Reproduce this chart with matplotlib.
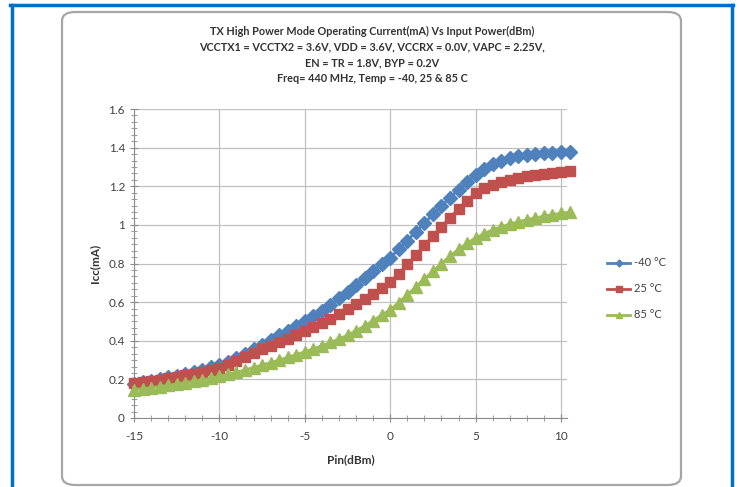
import numpy as np
import matplotlib.pyplot as plt
from matplotlib.patches import FancyBboxPatch
from matplotlib.lines import Line2D
from matplotlib.ticker import MultipleLocator

plt.rcParams["font.family"] = ["Lato", "DejaVu Sans"]
plt.rcParams["axes.unicode_minus"] = False

pin = np.arange(-15.0, 10.51, 0.5)

icc_m40 = [0.178, 0.185, 0.193, 0.201, 0.210, 0.219, 0.229, 0.239, 0.250, 0.262,
           0.275, 0.292, 0.311, 0.332, 0.355, 0.380, 0.404, 0.428, 0.452, 0.476,
           0.500, 0.527, 0.556, 0.587, 0.620, 0.655, 0.690, 0.725, 0.760, 0.795,
           0.830, 0.874, 0.919, 0.964, 1.009, 1.054, 1.098, 1.141, 1.183, 1.222,
           1.258, 1.289, 1.314, 1.332, 1.345, 1.355, 1.362, 1.367, 1.371, 1.374,
           1.376, 1.378]
icc_25 = [0.180, 0.186, 0.192, 0.199, 0.206, 0.213, 0.221, 0.229, 0.238, 0.247,
          0.257, 0.275, 0.294, 0.314, 0.335, 0.357, 0.375, 0.393, 0.411, 0.430,
          0.450, 0.471, 0.492, 0.515, 0.539, 0.565, 0.591, 0.617, 0.644, 0.673,
          0.705, 0.748, 0.795, 0.844, 0.894, 0.943, 0.991, 1.038, 1.083, 1.126,
          1.163, 1.190, 1.208, 1.222, 1.234, 1.244, 1.252, 1.259, 1.265, 1.270,
          1.275, 1.279]
icc_85 = [0.147, 0.152, 0.157, 0.163, 0.169, 0.176, 0.183, 0.190, 0.198, 0.206,
          0.215, 0.226, 0.237, 0.249, 0.261, 0.274, 0.287, 0.300, 0.314, 0.328,
          0.343, 0.358, 0.374, 0.391, 0.409, 0.429, 0.452, 0.477, 0.504, 0.533,
          0.560, 0.598, 0.638, 0.679, 0.720, 0.760, 0.800, 0.838, 0.873, 0.905,
          0.932, 0.955, 0.974, 0.990, 1.004, 1.016, 1.027, 1.036, 1.045, 1.053,
          1.060, 1.066]

labels = ["-40 °C", "25 °C", "85 °C"]
colors = ["#4F81BD", "#C0504D", "#9BBB59"]
markers = ["D", "s", "^"]
sizes = [7, 7.5, 8.5]

title = ("TX High Power Mode Operating Current(mA) Vs Input Power(dBm)\n"
         "VCCTX1 = VCCTX2 = 3.6V, VDD = 3.6V, VCCRX = 0.0V, VAPC = 2.25V,\n"
         "EN = TR = 1.8V, BYP = 0.2V\n"
         "Freq= 440 MHz, Temp = -40, 25 & 85 C")

W, H = 740, 487
fig = plt.figure(figsize=(W / 100, H / 100), dpi=100)

# blue page frame
frame_kw = dict(color="#0070C0", lw=2.5, transform=fig.transFigure)
fig.add_artist(Line2D([11.5 / W, 11.5 / W], [0, 1 - 5 / H], **frame_kw))
fig.add_artist(Line2D([731.5 / W, 731.5 / W], [0, 1 - 5 / H], **frame_kw))
fig.add_artist(Line2D([10 / W, 733 / W], [1 - 5 / H, 1 - 5 / H], **frame_kw))

# rounded chart box, kept behind the axes
box = FancyBboxPatch((62 / W, 1 - 485 / H), 619 / W, 473 / H,
                     boxstyle="round,pad=0,rounding_size=0.018",
                     transform=fig.transFigure, fc="white", ec="#A6A6A6", lw=1.6,
                     zorder=-5)
fig.add_artist(box)

ax = fig.add_axes([134 / W, 1 - 418 / H, 433 / W, 309 / H])
ax.patch.set_alpha(0)
series = [icc_m40, icc_25, icc_85]
for vals, lab, c, m, s in zip(series, labels, colors, markers, sizes):
    ax.plot(pin, vals, color=c, marker=m, markersize=s, lw=2, label=lab,
            clip_on=False, zorder=3)

ax.set_xlim(-15, 10.35)
ax.set_ylim(0, 1.6)
ax.xaxis.set_major_locator(MultipleLocator(5))
ax.xaxis.set_minor_locator(MultipleLocator(1))
ax.yaxis.set_minor_locator(MultipleLocator(0.2 / 6))
ax.set_yticks(np.arange(0, 1.61, 0.2))
ax.set_yticklabels(["0", "0.2", "0.4", "0.6", "0.8", "1", "1.2", "1.4", "1.6"])
ax.grid(True, which="major", color="#C0C0C0", lw=0.9)
ax.set_axisbelow(True)
for side in ["top", "right"]:
    ax.spines[side].set_visible(False)
for side in ["left", "bottom"]:
    ax.spines[side].set_color("#8C8C8C")
ax.tick_params(which="both", direction="inout", colors="#8C8C8C",
               labelcolor="#404040", labelsize=8.5)
ax.tick_params(which="major", length=6)
ax.tick_params(which="minor", length=4)
ax.tick_params(axis="x", pad=6)

ax.set_xlabel("Pin(dBm)", fontsize=8.5, fontweight="bold", color="#333333", labelpad=9)
ax.set_ylabel("Icc(mA)", fontsize=8.5, fontweight="bold", color="#333333", labelpad=6)

fig.text(372 / W, 1 - 26 / H, title, ha="center", va="top", fontsize=7.8,
         fontweight="bold", color="#333333", linespacing=1.5)

ax.legend(loc="center left", bbox_to_anchor=(597 / W, 1 - 289 / H),
          bbox_transform=fig.transFigure, frameon=False, fontsize=8,
          handlelength=2.1, markerscale=0.5, labelspacing=1.35,
          handletextpad=0.3, labelcolor="#404040")

fig.savefig("out.png", dpi=100)
